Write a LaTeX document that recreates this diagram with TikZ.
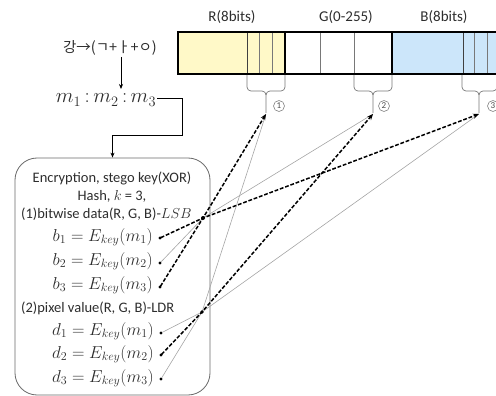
\documentclass[tikz,border=0pt]{standalone}
\usepackage{fontspec}
\setmainfont{Carlito}
\newfontfamily\hangulfont{Noto Sans CJK KR}
\usetikzlibrary{arrows.meta}
\definecolor{rfill}{RGB}{255,249,200}
\definecolor{bfill}{RGB}{204,230,250}
\definecolor{thinline}{RGB}{165,165,165}
\definecolor{framegray}{RGB}{105,105,105}
\definecolor{cellgray}{RGB}{120,120,120}
\definecolor{ink}{RGB}{45,45,45}
\tikzset{
  x=1pt, y=-1pt,
  lbl/.style={inner sep=0pt, text=ink, font=\fontsize{15}{17}\selectfont},
  boxtxt/.style={inner sep=0pt, text=ink, font=\fontsize{14.5}{16}\selectfont},
  eqtxt/.style={inner sep=0pt, anchor=east, text=ink, font=\fontsize{16.5}{19}\selectfont},
  pt/.style={circle, fill=black, inner sep=0pt, minimum size=3.2pt},
  keyline/.style={line width=1.5pt, dash pattern=on 3.8pt off 1.8pt,
    -{Stealth[length=6pt,width=5pt]}, shorten <=-1pt},
  thinlink/.style={draw=thinline, line width=0.6pt},
  bracepath/.style={draw=cellgray, line width=0.7pt},
  circnum/.style={circle, draw=cellgray, line width=0.55pt, inner sep=0pt,
    minimum size=11pt, text=black!70, font=\fontsize{9}{9}\selectfont},
  arr/.style={line width=0.7pt, -{Stealth[length=5pt,width=4pt]}},
}
\begin{document}
\begin{tikzpicture}
\useasboundingbox (0,0) rectangle (496,396);
\clip (0,0) rectangle (496,396);

% channel labels
\node[lbl] (lr) at (232,17) {R(8bits)};
\node[lbl] (lg) at (346,17) {G(0-255)};
\node[lbl] (lb) at (444,17) {B(8bits)};

% pixel bit bar
\fill[rfill] (178,32) rectangle (285,74);
\fill[bfill] (392,32) rectangle (500,74);
\foreach \xx in {259,272,320,354,474,487}
  \draw[cellgray, line width=0.6pt] (\xx,32) -- (\xx,74);
\foreach \xx in {247,463}
  \draw[black!75, line width=0.8pt] (\xx,32) -- (\xx,74);
\draw[line width=1.3pt] (285,32) -- (285,74) (392,32) -- (392,74);
\draw[line width=1.5pt] (178,32) rectangle (500,74);

% braces under the embedding bits
\draw[bracepath] (247,75) -- (247,87) to[out=-90,in=180] (251,91) -- (262,91)
  to[out=0,in=90] (266,95) -- (266,113);
\draw[bracepath] (285,75) -- (285,87) to[out=-90,in=0] (281,91) -- (270,91)
  to[out=180,in=90] (266,95);
\draw[bracepath] (354,75) -- (354,87) to[out=-90,in=180] (358,91) -- (369,91)
  to[out=0,in=90] (373,95) -- (373,113);
\draw[bracepath] (392,75) -- (392,87) to[out=-90,in=0] (388,91) -- (377,91)
  to[out=180,in=90] (373,95);
\draw[bracepath] (462,75) -- (462,87) to[out=-90,in=180] (466,91) -- (475,91)
  to[out=0,in=90] (479,95) -- (479,113);
\draw[bracepath] (497,75) -- (497,87) to[out=-90,in=0] (493,91) -- (483,91)
  to[out=180,in=90] (479,95);
\coordinate (T1) at (266,114);
\coordinate (T2) at (373,114);
\coordinate (T3) at (479,114);
\node[circnum] (c1) at (279,106) {1};
\node[circnum] (c2) at (384,106) {2};
\node[circnum] (c3) at (493,106) {3};

% message split
\node[lbl, font=\hangulfont\fontsize{14.5}{16}\selectfont] (hangul) at (110,48)
  {강→(ㄱ+ㅏ+ㅇ)};
\node[inner sep=1pt, text=ink, font=\fontsize{20}{22}\selectfont] (mm) at (106,100)
  {$m_1\,{:}\,m_2\,{:}\,m_3$};
\coordinate (hs) at (121,57);
\draw[arr] (hs) -- (121,89);

% encryption box
\node[draw=framegray, line width=0.8pt, rounded corners=22pt,
  minimum width=195pt, minimum height=237pt] (box) at (112.5,276.5) {};
\draw[arr] (mm.east |- 0,98) -| (182,135) -| (box.north);

\node[boxtxt] (t1) at (112,178) {Encryption, stego key(XOR)};
\node[boxtxt] (t2) at (112,196) {Hash, $k$ = 3,};
\node[boxtxt, anchor=west] (t3) at (21,214) {(1)bitwise data(R, G, B)-$LSB$};
\node[eqtxt] (e1) at (153,237) {$b_1 = E_{key}(m_1)$};
\node[eqtxt] (e2) at (153,261) {$b_2 = E_{key}(m_2)$};
\node[eqtxt] (e3) at (153,285) {$b_3 = E_{key}(m_3)$};
\node[boxtxt, anchor=west] (t4) at (21,308) {(2)pixel value(R, G, B)-LDR};
\node[eqtxt] (e4) at (154,331) {$d_1 = E_{key}(m_1)$};
\node[eqtxt] (e5) at (154,354) {$d_2 = E_{key}(m_2)$};
\node[eqtxt] (e6) at (154,378) {$d_3 = E_{key}(m_3)$};

% end points of the embedding links
\node[pt] (pb1) at (160,238) {};
\node[pt] (pb2) at (160,263) {};
\node[pt] (pb3) at (160,287) {};
\node[pt] (pd1) at (161,333) {};
\node[pt] (pd2) at (161,355) {};
\node[pt] (pd3) at (161,379) {};
\coordinate (J1) at (203,218);
\coordinate (J2) at (202,312);

% embedding links
\draw[thinlink] (pb2) -- (J1) -- (T2);
\draw[thinlink] (pd1) -- (J2) -- (T3);
\draw[thinlink] (pd3) -- (J2) -- (T1);
\draw[keyline] (pb1) -- (J1) -- (T3);
\draw[keyline] (pb3) -- (J1) -- (T1);
\draw[keyline] (pd2) -- (J2) -- (T2);
\fill (J1) circle (2pt);
\fill (J2) circle (1.8pt);
\end{tikzpicture}
\end{document}
